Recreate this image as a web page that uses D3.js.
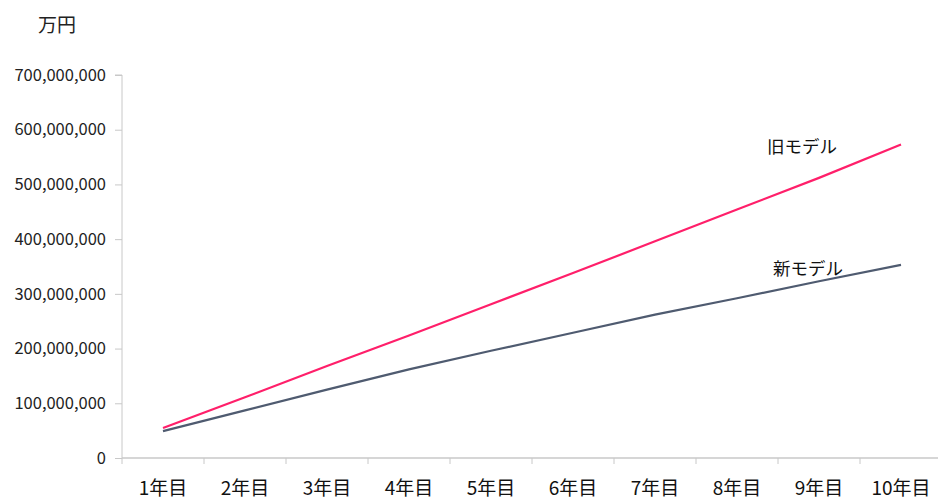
<!DOCTYPE html>
<html>
<head>
<meta charset="utf-8">
<script src="https://cdn.jsdelivr.net/npm/d3@7"></script>
<style>
  body { margin: 0; background: #fff; }
  text { font-family: "Noto Sans CJK JP", "Noto Sans", sans-serif; }
</style>
</head>
<body>
<div class="main"></div>
<script>
let years = ['1年目', '2年目', '3年目', '4年目', '5年目', '6年目', '7年目', '8年目', '9年目', '10年目']
let oldModel = [55e6, 111e6, 168e6, 224e6, 281e6, 338e6, 396e6, 454e6, 512e6, 573e6]
let newModel = [49e6, 87e6, 125e6, 162e6, 196e6, 229e6, 262e6, 292e6, 323e6, 353e6]
let yTicks = [0, 100e6, 200e6, 300e6, 400e6, 500e6, 600e6, 700e6]

let width = 938, height = 499
let svg = d3.select('.main').append('svg')
  .attr('width', width).attr('height', height)

let xScale = d3.scaleBand().domain(years).range([122, 942]).padding(0)
let yScale = d3.scaleLinear().domain([0, 700e6]).range([458, 75])

// y axis
let yAxis = d3.axisLeft(yScale).tickValues(yTicks).tickSize(7).tickPadding(9)
  .tickFormat(d3.format(','))
let gy = svg.append('g').attr('transform', 'translate(122,0)').call(yAxis)
gy.select('.domain').attr('stroke', '#c8c8c8').attr('d', 'M-7,75H0V458')
gy.selectAll('.tick line').attr('stroke', '#c8c8c8')
gy.selectAll('.tick text').attr('font-size', 16.5).attr('fill', '#222')

// x axis with ticks on category boundaries
let gx = svg.append('g').attr('transform', 'translate(0,458)')
gx.append('line').attr('x1', 122).attr('x2', 938).attr('stroke', '#c8c8c8').attr('stroke-width', 1.5)
gx.selectAll('line.tk').data(years).enter().append('line')
  .attr('class', 'tk')
  .attr('x1', d => xScale(d)).attr('x2', d => xScale(d))
  .attr('y1', 0).attr('y2', 6)
  .attr('stroke', '#c8c8c8')
gx.selectAll('text').data(years).enter().append('text')
  .attr('x', d => xScale(d) + xScale.bandwidth() / 2)
  .attr('y', 37)
  .attr('text-anchor', 'middle')
  .attr('font-size', 19)
  .attr('fill', '#111')
  .text(d => d)

let line = d3.line()
  .x((d, i) => xScale(years[i]) + xScale.bandwidth() / 2)
  .y(d => yScale(d))

svg.append('path').datum(oldModel)
  .attr('d', line).attr('fill', 'none')
  .attr('stroke', '#ff1f6a').attr('stroke-width', 2.2)

svg.append('path').datum(newModel)
  .attr('d', line).attr('fill', 'none')
  .attr('stroke', '#4f5b70').attr('stroke-width', 2.2)

svg.append('text').attr('x', 802).attr('y', 153).attr('text-anchor', 'middle')
  .attr('font-size', 17.5).attr('fill', '#111').text('旧モデル')
svg.append('text').attr('x', 808).attr('y', 275).attr('text-anchor', 'middle')
  .attr('font-size', 17.5).attr('fill', '#111').text('新モデル')

svg.append('text').attr('x', 38).attr('y', 32)
  .attr('font-size', 19).attr('fill', '#222').text('万円')
</script>
</body>
</html>
